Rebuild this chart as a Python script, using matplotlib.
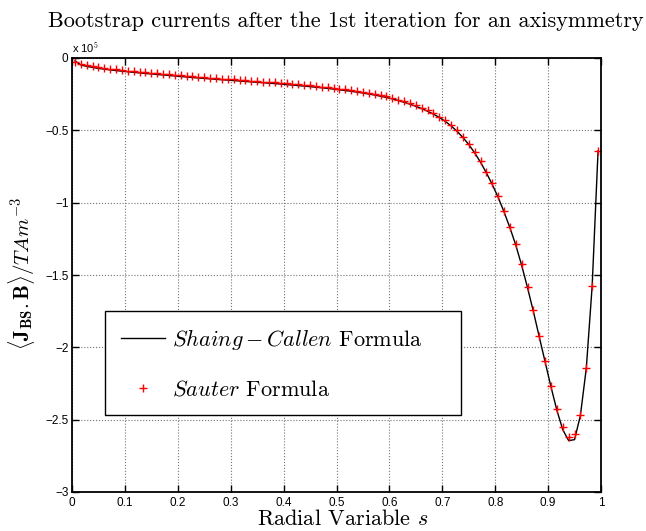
import numpy as np
import matplotlib
matplotlib.use('Agg')
import matplotlib.pyplot as plt
from matplotlib.ticker import MultipleLocator, FuncFormatter

plt.rcParams['mathtext.fontset'] = 'cm'

# radial grid (90 flux surfaces, cell centres)
s = [(i - 0.5) / 90.0 for i in range(1, 91)]

# Sauter formula, <J_BS.B> in units of 1e5
sauter = [
    -0.028, -0.041, -0.050, -0.057, -0.064, -0.069, -0.074, -0.079, -0.083, -0.087,
    -0.091, -0.095, -0.099, -0.102, -0.106, -0.109, -0.113, -0.116, -0.120, -0.123,
    -0.127, -0.130, -0.133, -0.136, -0.139, -0.142, -0.145, -0.148, -0.151, -0.154,
    -0.157, -0.160, -0.163, -0.166, -0.169, -0.172, -0.176, -0.179, -0.183, -0.186,
    -0.190, -0.194, -0.198, -0.202, -0.207, -0.212, -0.217, -0.222, -0.228, -0.234,
    -0.241, -0.248, -0.256, -0.266, -0.277, -0.288, -0.300, -0.313, -0.328, -0.344,
    -0.362, -0.382, -0.405, -0.432, -0.463, -0.500, -0.543, -0.592, -0.648, -0.713,
    -0.786, -0.866, -0.955, -1.055, -1.165, -1.285, -1.425, -1.580, -1.745, -1.920,
    -2.094, -2.267, -2.426, -2.552, -2.621, -2.596, -2.465, -2.144, -1.574, -0.641]

# Shaing-Callen formula, same grid
shaing = [
    -0.020, -0.048, -0.058, -0.065, -0.072, -0.077, -0.082, -0.087, -0.091, -0.095,
    -0.099, -0.103, -0.107, -0.110, -0.114, -0.117, -0.121, -0.124, -0.128, -0.131,
    -0.135, -0.138, -0.141, -0.144, -0.147, -0.150, -0.153, -0.156, -0.159, -0.162,
    -0.165, -0.168, -0.171, -0.174, -0.177, -0.180, -0.184, -0.187, -0.191, -0.194,
    -0.198, -0.202, -0.206, -0.210, -0.215, -0.220, -0.225, -0.230, -0.236, -0.242,
    -0.249, -0.256, -0.264, -0.273, -0.283, -0.294, -0.306, -0.319, -0.334, -0.350,
    -0.368, -0.388, -0.411, -0.438, -0.469, -0.506, -0.549, -0.598, -0.655, -0.720,
    -0.794, -0.874, -0.963, -1.063, -1.173, -1.293, -1.433, -1.588, -1.753, -1.928,
    -2.102, -2.275, -2.436, -2.570, -2.645, -2.638, -2.470, -2.144, -1.574, -0.641]

fig = plt.figure(figsize=(6.46, 5.31), dpi=100)
ax = fig.add_axes([72 / 646, 1 - 492 / 531, 529 / 646, 434 / 531])

ax.plot(s, shaing, c='black', lw=1.0, label=r'$Shaing-Callen$ Formula')
ax.plot(s, sauter, ls='none', marker='+', ms=6, mew=1.0, c='red',
        label=r'$Sauter$ Formula')

ax.set_xlim(0, 1)
ax.set_ylim(-3, 0)
ax.xaxis.set_major_locator(MultipleLocator(0.1))
ax.yaxis.set_major_locator(MultipleLocator(0.5))
fmt = FuncFormatter(lambda v, p: ('%g' % round(v, 6)).replace('-', '\u2212'))
ax.xaxis.set_major_formatter(fmt)
ax.yaxis.set_major_formatter(fmt)
ax.tick_params(direction='in', top=True, right=True, length=5, width=1,
               labelsize=8.5)
ax.tick_params(axis='x', pad=3.5)
ax.tick_params(axis='y', pad=2.5)
for lab in ax.get_xticklabels() + ax.get_yticklabels():
    lab.set_fontfamily('Liberation Sans')
for sp in ax.spines.values():
    sp.set_linewidth(1.3)
ax.grid(True, ls=':', c='0.45', lw=0.8)

ax.text(0, 1.008, r'x 10$^5$', transform=ax.transAxes, fontsize=8,
        family='Liberation Sans', va='bottom', ha='left')

fig.text(346 / 646, 1 - 21 / 531, 'Bootstrap currents after the 1st iteration for an axisymmetry',
         family='cmr10', fontsize=16, ha='center', va='center')
ax.set_xlabel(r'Radial Variable $s$', family='cmr10', fontsize=16)
ax.xaxis.set_label_coords(0.511, -0.039)
ax.set_ylabel(r'$\langle \mathbf{J}_{\mathbf{BS}}.\mathbf{B}\rangle / TAm^{-3}$',
              fontsize=15)
ax.yaxis.set_label_coords(-0.067, 0.503)

leg = ax.legend(loc='center', bbox_to_anchor=(33 / 529, 75 / 434, 356 / 529, 108 / 434),
                mode='expand', prop={'family': 'cmr10', 'size': 16},
                fancybox=False, framealpha=1, edgecolor='black',
                handlelength=2.0, handletextpad=0.3, labelspacing=1.25,
                borderpad=0.7, borderaxespad=0)
leg.get_frame().set_linewidth(1.0)

plt.savefig('out.png', dpi=100)
plt.close()
